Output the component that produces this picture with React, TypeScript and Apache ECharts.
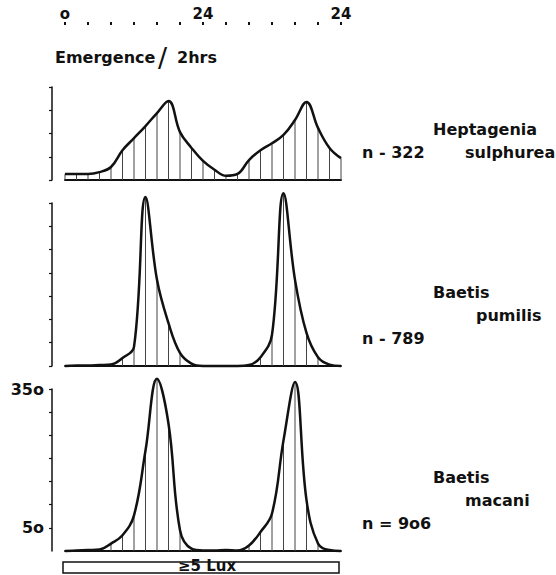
import React, { useEffect, useRef } from "react";
import * as echarts from "echarts";

// hour boundaries (2-hr intervals over 48 h)
const hours = [0, 2, 4, 6, 8, 10, 12, 14, 16, 18, 20, 22, 24, 26, 28, 30, 32, 34, 36, 38, 40, 42, 44, 46, 48];

// emergence per 2 hrs
const heptagenia = [13, 13, 13, 17, 28, 64, 90, 116, 144, 170, 103, 69, 41, 22, 9, 13, 43, 64, 79, 97, 129, 168, 112, 69, 47];
const pumilis = [0, 1, 1, 2, 3, 17, 41, 363, 185, 92, 28, 5, 0, 0, 0, 0, 2, 19, 67, 371, 185, 71, 19, 3, 0];
const macani = [0, 1, 2, 3, 16, 34, 77, 217, 372, 275, 45, 5, 1, 1, 2, 1, 12, 41, 81, 239, 365, 110, 16, 2, 0];

const yTicksBottom = [50, 100, 150, 200, 250, 300, 350];
const yLabelsBottom = [50, 350];
const yLabelText: Record<number, string> = { 50: "5o", 350: "35o" };
const topLabelText: Record<number, string> = { 0: "o", 24: "24", 48: "24" };

const FONT = "DejaVu Sans";
const INK = "#111";

export default function App() {
  const ref = useRef<HTMLDivElement>(null);

  useEffect(() => {
    if (!ref.current) return;
    const chart = echarts.init(ref.current, undefined, { renderer: "svg" });
    const panels = [heptagenia, pumilis, macani];
    const grids = [
      { left: 65, width: 276, top: 87, height: 93 },
      { left: 65, width: 276, top: 203, height: 163 },
      { left: 65, width: 276, top: 389, height: 162 },
    ];
    const yMax = [200, 350, 350];

    const xAxes: any[] = grids.map((_, i) => ({
      gridIndex: i,
      type: "value",
      min: 0,
      max: 48,
      interval: 4,
      position: "bottom",
      axisLine: { show: true, onZero: false, lineStyle: { color: INK, width: 2 } },
      axisTick: { show: false },
      axisLabel: { show: false },
      splitLine: { show: false },
    }));
    xAxes.push({
      gridIndex: 0,
      type: "value",
      min: 0,
      max: 48,
      interval: 4,
      position: "top",
      offset: 62,
      axisLine: { show: false, onZero: false },
      axisTick: { show: true, length: 3, lineStyle: { color: INK, width: 2 } },
      axisLabel: {
        show: true,
        margin: 4,
        color: INK,
        fontFamily: FONT,
        fontWeight: "bold",
        fontSize: 15,
        formatter: (v: number) => topLabelText[v] ?? "",
      },
      splitLine: { show: false },
    });

    const yAxes: any[] = grids.map((_, i) => {
      const base: any = {
        gridIndex: i,
        type: "value",
        min: 0,
        max: yMax[i],
        interval: 50,
        offset: 13,
        axisLine: { show: true, onZero: false, lineStyle: { color: INK, width: 1.5 } },
        axisTick: { show: true, length: 3, lineStyle: { color: INK, width: 1.2 } },
        axisLabel: { show: false },
        splitLine: { show: false },
      };
      if (i === 2) {
        base.axisTick = { ...base.axisTick, customValues: yTicksBottom };
        base.axisLabel = {
          show: true,
          customValues: yLabelsBottom,
          margin: 8,
          color: INK,
          fontFamily: FONT,
          fontWeight: "bold",
          fontSize: 16,
          formatter: (v: number) => yLabelText[v] ?? "",
        };
      }
      return base;
    });

    const series: any[] = [];
    panels.forEach((vals, i) => {
      const data = hours.map((h, j) => [h, vals[j]]);
      series.push({
        type: "bar",
        xAxisIndex: i,
        yAxisIndex: i,
        data,
        barWidth: 1,
        clip: false,
        silent: true,
        itemStyle: { color: "#444" },
        z: 1,
      });
      series.push({
        type: "line",
        xAxisIndex: i,
        yAxisIndex: i,
        data,
        smooth: 0.4,
        symbol: "none",
        clip: false,
        silent: true,
        lineStyle: { color: INK, width: 2.5 },
        z: 3,
      });
    });

    const txt = (text: string, x: number, y: number, size = 16, extra: any = {}) => ({
      type: "text",
      x,
      y,
      silent: true,
      style: {
        text,
        fill: INK,
        fontFamily: FONT,
        fontWeight: "bold",
        fontSize: size,
        verticalAlign: "middle",
        align: "left",
        ...extra,
      },
    });

    const graphic: any[] = [
      txt("Emergence", 55, 57, 16),
      txt("/", 158, 57, 27, { fontWeight: "normal" }),
      txt("2hrs", 177, 57, 16),
      txt("Heptagenia", 433, 129),
      txt("sulphurea", 465, 152),
      txt("n - 322", 362, 152),
      txt("Baetis", 433, 292),
      txt("pumilis", 476, 315),
      txt("n - 789", 362, 338),
      txt("Baetis", 433, 477),
      txt("macani", 465, 500),
      txt("n = 9o6", 362, 523),
      {
        type: "rect",
        shape: { x: 63, y: 562, width: 276, height: 11 },
        style: { fill: "#fff", stroke: INK, lineWidth: 1.5 },
        silent: true,
      },
      txt("≥5 Lux", 207, 566, 15, { align: "center" }),
    ];

    chart.setOption({
      animation: false,
      backgroundColor: "#fff",
      grid: grids,
      xAxis: xAxes,
      yAxis: yAxes,
      series,
      graphic,
    });
    return () => chart.dispose();
  }, []);

  return (
    <div
      ref={ref}
      style={{ position: "fixed", left: 0, top: 0, width: 556, height: 575, background: "#fff" }}
    />
  );
}
